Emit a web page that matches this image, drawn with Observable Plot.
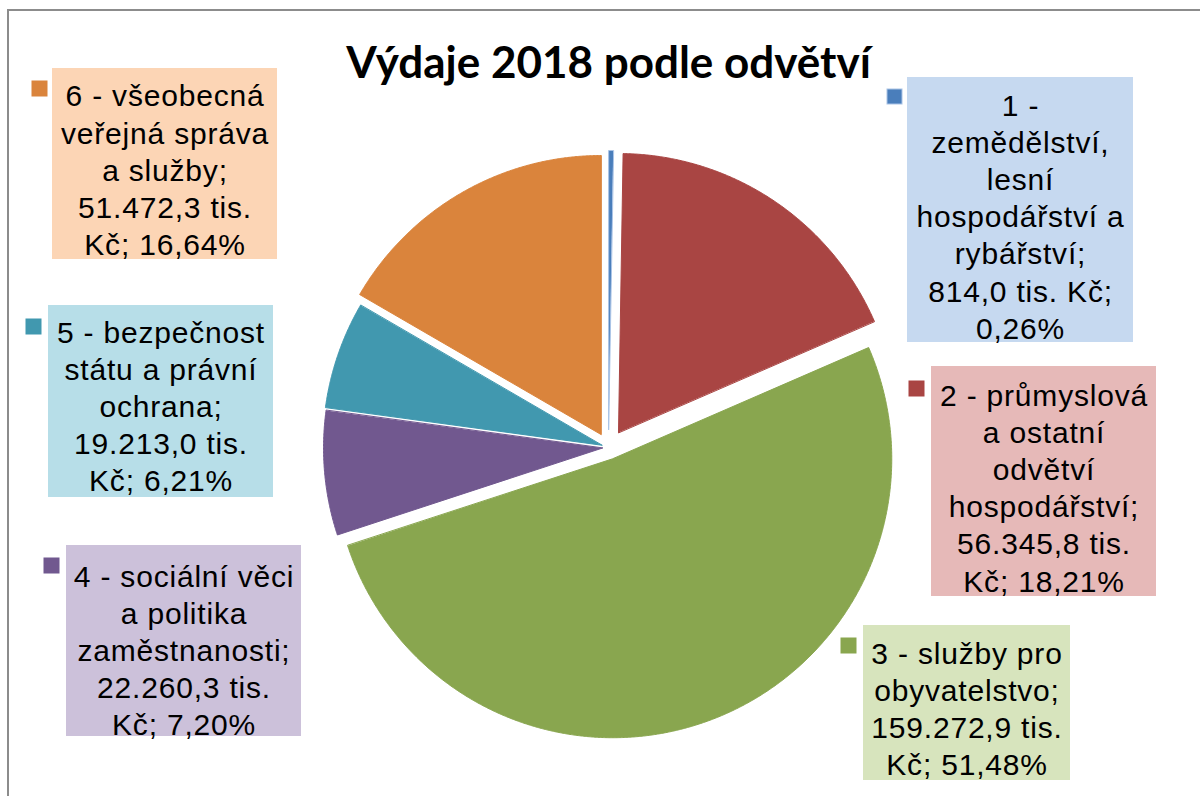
<!DOCTYPE html>
<html>
<head>
<meta charset="utf-8">
<script src="https://cdn.jsdelivr.net/npm/d3@7"></script>
<script src="https://cdn.jsdelivr.net/npm/@observablehq/plot@0.6"></script>
<style>
  html, body { margin: 0; padding: 0; background: #fff; overflow: hidden; }
  #wrap { position: relative; width: 1200px; height: 796px; overflow: hidden; }
  #frame { position: absolute; left: 7px; top: 9px; width: 1300px; height: 900px; border: 2px solid #8c8c8c; pointer-events: none; }
  #chart svg { display: block; }
  .lbl text { letter-spacing: 0.8px; }
</style>
</head>
<body>
<div id="wrap"><div id="chart"></div><div id="frame"></div></div>
<script>
// ---- data ----
const title = "Výdaje 2018 podle odvětví";
const codes = ["1", "2", "3", "4", "5", "6"];
const values = [814.0, 56345.8, 159272.9, 22260.3, 19213.0, 51472.3]; // tis. Kč
const labels = [
  "1 -\nzemědělství,\nlesní\nhospodářství a\nrybářství;\n814,0 tis. Kč;\n0,26%",
  "2 - průmyslová\na ostatní\nodvětví\nhospodářství;\n56.345,8 tis.\nKč; 18,21%",
  "3 - služby pro\nobyvatelstvo;\n159.272,9 tis.\nKč; 51,48%",
  "4 - sociální věci\na politika\nzaměstnanosti;\n22.260,3 tis.\nKč; 7,20%",
  "5 - bezpečnost\nstátu a právní\nochrana;\n19.213,0 tis.\nKč; 6,21%",
  "6 - všeobecná\nveřejná správa\na služby;\n51.472,3 tis.\nKč; 16,64%"
];

// ---- styles / layout ----
const sliceColors = ["#4A7EBB", "#A94543", "#89A64F", "#71588F", "#4198AF", "#DA843C"];
const sliceStrokes = ["#A9C3E6", "#A94543", "#89A64F", "#71588F", "#4198AF", "#DA843C"];
const boxColors = ["#C6D9F0", "#E6B9B8", "#D7E4BD", "#CCC1DA", "#B7DEE8", "#FCD5B5"];
const CX = 608, CY = 447, R = 279;
const explode = [18, 18, 12, 6, 7, 15];
const boxes = [[907, 77, 1133, 342], [931, 366, 1156, 596], [863, 625, 1070, 780],
               [66, 545, 301, 736], [48, 305, 273, 497], [52, 68, 277, 259]];
const firstBaseline = [110, 400, 658, 581, 337, 100.7];
const keys = [[887, 89], [909, 381], [841, 638], [44, 558], [26, 319], [32, 81]];
const KEY = 15;
const FS = 30;
const LINE = 37.2;

// ---- pie geometry derived from values ----
const arcs = d3.pie().sort(null).value(d => d)(values);
const pts = [];
arcs.forEach((a, i) => {
  const mid = (a.startAngle + a.endAngle) / 2;
  const ax = CX + explode[i] * Math.sin(mid);
  const ay = CY - explode[i] * Math.cos(mid);
  pts.push({k: i, x: ax, y: ay, fill: sliceColors[i], stroke: sliceStrokes[i]});
  const n = Math.max(2, Math.ceil((a.endAngle - a.startAngle) / 0.005));
  for (let j = 0; j <= n; j++) {
    const t = a.startAngle + (a.endAngle - a.startAngle) * j / n;
    pts.push({k: i, x: ax + R * Math.sin(t), y: ay - R * Math.cos(t), fill: sliceColors[i], stroke: sliceStrokes[i]});
  }
});

const rows = codes.map((c, i) => ({
  code: c,
  label: labels[i],
  x1: boxes[i][0], y1: boxes[i][1], x2: boxes[i][2], y2: boxes[i][3],
  cx: (boxes[i][0] + boxes[i][2]) / 2,
  ty: firstBaseline[i] - 0.71 * FS,
  kx1: keys[i][0], ky1: keys[i][1], kx2: keys[i][0] + KEY, ky2: keys[i][1] + KEY,
  box: boxColors[i], key: sliceColors[i], keyStroke: sliceStrokes[i]
}));

const chart = Plot.plot({
  width: 1200,
  height: 796,
  margin: 0,
  x: {domain: [0, 1200], range: [0, 1200], axis: null},
  y: {domain: [0, 796], range: [0, 796], axis: null},
  color: {type: "identity"},
  style: {background: "transparent"},
  marks: [
    Plot.line(pts, {x: "x", y: "y", z: "k", fill: "fill", stroke: "stroke", strokeWidth: 1, curve: "linear-closed"}),
    Plot.rect(rows, {x1: "x1", x2: "x2", y1: "y1", y2: "y2", fill: "box"}),
    Plot.rect(rows, {x1: "kx1", x2: "kx2", y1: "ky1", y2: "ky2", fill: "key", stroke: "keyStroke", strokeWidth: 1}),
    Plot.text(rows, {x: "cx", y: "ty", text: "label", lineAnchor: "top", lineHeight: LINE / FS,
      fontSize: FS, fontFamily: "'Liberation Sans', Arial, sans-serif", fill: "#000", className: "lbl"}),
    Plot.text([title], {frameAnchor: "top", dx: 8, dy: 46.5, text: d => d, lineAnchor: "top",
      fontSize: 44, fontWeight: "bold", fontFamily: "Lato, 'Liberation Sans', sans-serif", fill: "#000"})
  ]
});
document.getElementById("chart").appendChild(chart);
</script>
</body>
</html>
